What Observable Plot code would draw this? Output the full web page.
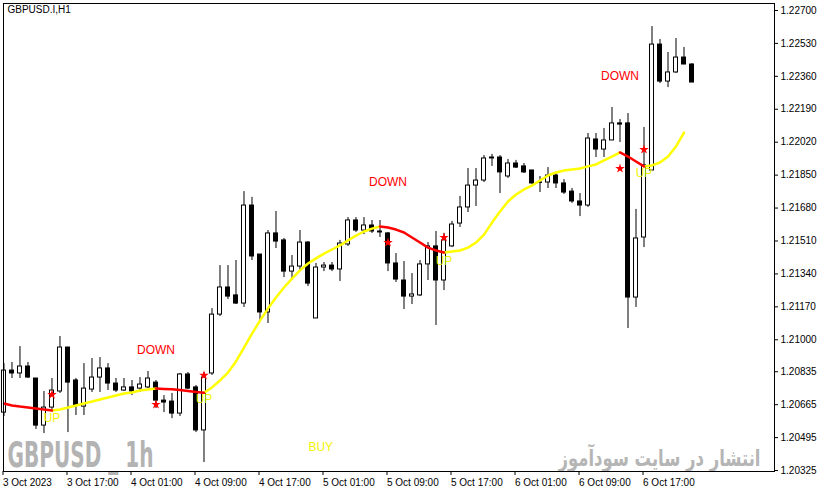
<!DOCTYPE html>
<html>
<head>
<meta charset="utf-8">
<script src="https://cdn.jsdelivr.net/npm/d3@7"></script>
<script src="https://cdn.jsdelivr.net/npm/@observablehq/plot@0.6"></script>
<style>
  body { margin: 0; background: #fff; }
  #chart svg { display: block; }
</style>
</head>
<body>
<div id="chart"></div>
<script>
// GBPUSD.I H1 candles, one bar per hour starting 3 Oct 2023 09:00
const opens = [
  1.20624,1.20841,1.20826,1.20862,1.20800,1.20557,1.20650,1.20733,1.20960,1.20790,
  1.20655,1.20743,1.20805,1.20852,1.20774,1.20738,1.20754,1.20748,1.20754,1.20779,
  1.20686,1.20681,1.20619,1.20821,1.20754,1.20532,1.20826,1.21130,1.21270,1.21229,
  1.21187,1.21693,1.21440,1.21141,1.21549,1.21513,1.21352,1.21378,1.21502,1.21110,
  1.21373,1.21383,1.21363,1.21492,1.21616,1.21564,1.21590,1.21559,1.21549,1.21394,
  1.21306,1.21223,1.21229,1.21389,1.21482,1.21306,1.21482,1.21600,1.21683,1.21796,
  1.21822,1.21941,1.21941,1.21843,1.21910,1.21895,1.21874,1.21812,1.21812,1.21848,
  1.21807,1.21765,1.21714,1.21693,1.22034,1.21982,1.22029,1.22117,1.22117,1.21218,
  1.21528,1.21874,1.22524,1.22333,1.22380,1.22457,1.22421
];
const highs = [
  1.20877,1.20883,1.20965,1.20883,1.20800,1.20733,1.20800,1.21017,1.20960,1.20800,
  1.20877,1.20903,1.20908,1.20877,1.20800,1.20800,1.20790,1.20805,1.20836,1.20790,
  1.20712,1.20723,1.20826,1.20831,1.20764,1.20831,1.21161,1.21383,1.21383,1.21409,
  1.21765,1.21735,1.21440,1.21564,1.21662,1.21523,1.21435,1.21564,1.21507,1.21394,
  1.21399,1.21399,1.21513,1.21631,1.21631,1.21631,1.21616,1.21616,1.21554,1.21445,
  1.21404,1.21342,1.21409,1.21502,1.21559,1.21549,1.21611,1.21740,1.21884,1.21884,
  1.21951,1.21957,1.21951,1.21931,1.21926,1.21910,1.21874,1.21843,1.21889,1.21864,
  1.21827,1.21781,1.21755,1.22065,1.22065,1.22091,1.22199,1.22137,1.22168,1.21673,
  1.22096,1.22617,1.22550,1.22483,1.22555,1.22509,1.22426
];
const lows = [
  1.20604,1.20800,1.20800,1.20800,1.20537,1.20516,1.20635,1.20723,1.20521,1.20609,
  1.20609,1.20728,1.20728,1.20738,1.20728,1.20733,1.20712,1.20728,1.20748,1.20645,
  1.20624,1.20593,1.20604,1.20743,1.20521,1.20366,1.20816,1.21120,1.21208,1.21182,
  1.21167,1.21409,1.21089,1.21084,1.21471,1.21321,1.21306,1.21358,1.21275,1.21110,
  1.21352,1.21352,1.21301,1.21482,1.21554,1.21543,1.21549,1.21528,1.21352,1.21296,
  1.21156,1.21182,1.21223,1.21306,1.21074,1.21254,1.21476,1.21580,1.21657,1.21688,
  1.21812,1.21895,1.21755,1.21833,1.21884,1.21858,1.21802,1.21760,1.21781,1.21781,
  1.21750,1.21704,1.21636,1.21683,1.21941,1.21941,1.22029,1.22018,1.21058,1.21167,
  1.21476,1.21874,1.22323,1.22302,1.22375,1.22421,1.22328
];
const closes = [
  1.20841,1.20826,1.20862,1.20805,1.20557,1.20650,1.20738,1.20960,1.20779,1.20661,
  1.20748,1.20805,1.20852,1.20774,1.20738,1.20754,1.20733,1.20769,1.20800,1.20686,
  1.20676,1.20619,1.20821,1.20748,1.20532,1.20805,1.21130,1.21270,1.21223,1.21187,
  1.21693,1.21430,1.21141,1.21549,1.21507,1.21352,1.21378,1.21502,1.21290,1.21373,
  1.21383,1.21363,1.21497,1.21616,1.21564,1.21590,1.21559,1.21554,1.21394,1.21311,
  1.21223,1.21234,1.21389,1.21482,1.21306,1.21513,1.21595,1.21683,1.21796,1.21822,
  1.21936,1.21936,1.21864,1.21910,1.21889,1.21864,1.21807,1.21810,1.21848,1.21807,
  1.21760,1.21714,1.21693,1.22039,1.21982,1.22029,1.22117,1.22111,1.21218,1.21523,
  1.21900,1.22524,1.22333,1.22380,1.22457,1.22421,1.22328
];

// trend indicator line (red while falling, yellow while rising)
const trendLine = [
  1.20671,1.20661,1.20655,1.20650,1.20645,1.20640,1.20635,1.20640,1.20650,1.20661,
  1.20671,1.20681,1.20692,1.20702,1.20712,1.20723,1.20728,1.20738,1.20743,1.20748,
  1.20746,1.20744,1.20741,1.20736,1.20731,1.20726,1.20754,1.20790,1.20831,1.20888,
  1.20960,1.21032,1.21099,1.21161,1.21218,1.21270,1.21316,1.21358,1.21394,1.21420,
  1.21445,1.21466,1.21487,1.21513,1.21538,1.21559,1.21574,1.21585,1.21580,1.21569,
  1.21554,1.21528,1.21502,1.21476,1.21461,1.21451,1.21456,1.21461,1.21476,1.21502,
  1.21543,1.21605,1.21662,1.21714,1.21750,1.21776,1.21796,1.21822,1.21848,1.21864,
  1.21874,1.21879,1.21884,1.21895,1.21905,1.21926,1.21946,1.21967,1.21946,1.21920,
  1.21895,1.21900,1.21915,1.21946,1.21998,1.22070
];

// signal stars and labels
const starBars = [6, 19, 25, 48, 55, 77, 80];
const starPrices = [1.20717, 1.20666, 1.20816, 1.21502, 1.21528, 1.21884, 1.21982];
const labelBars = [6, 19, 25, 48, 55, 77, 80, 39.6];
const labelPrices = [1.20593, 1.20945, 1.20692, 1.21812, 1.21404, 1.22359, 1.21858, 1.20444];
const labelTexts = ["UP", "DOWN", "UP", "DOWN", "UP", "DOWN", "UP", "BUY"];

const timeTicks = [0, 8, 16, 24, 32, 40, 48, 56, 64, 72, 80];
const timeLabels = ["3 Oct 2023", "3 Oct 17:00", "4 Oct 01:00", "4 Oct 09:00", "4 Oct 17:00",
  "5 Oct 01:00", "5 Oct 09:00", "5 Oct 17:00", "6 Oct 01:00", "6 Oct 09:00", "6 Oct 17:00"];
const priceTicks = [1.22700, 1.22530, 1.22360, 1.22190, 1.22020, 1.21850, 1.21680, 1.21510,
  1.21340, 1.21170, 1.21000, 1.20835, 1.20665, 1.20495, 1.20325];

const symbolMark = "GBPUSD _ 1h";
const siteMark = "انتشار در سایت سودآموز";

const candles = opens.map((o, i) => ({i, open: o, high: highs[i], low: lows[i], close: closes[i]}));
const bull = candles.filter(d => d.close >= d.open);
const bear = candles.filter(d => d.close < d.open);

// split the indicator into runs of same direction
const trendPts = [];
let seg = 0, prevDown = null;
for (let i = 0; i < trendLine.length - 1; i++) {
  const down = trendLine[i + 1] < trendLine[i];
  if (down !== prevDown) {
    seg++;
    trendPts.push({i, v: trendLine[i], seg, down});
  }
  trendPts.push({i: i + 1, v: trendLine[i + 1], seg, down});
  prevDown = down;
}

const stars = starBars.map((b, k) => ({i: b, p: starPrices[k]}));
const labels = labelBars.map((b, k) => ({i: b, p: labelPrices[k], t: labelTexts[k]}));

const font = "'Liberation Sans', Arial, sans-serif";

const chart = Plot.plot({
  width: 821,
  height: 495,
  marginLeft: 3,
  marginRight: 47,
  marginTop: 3,
  marginBottom: 24,
  style: {fontFamily: font, fontSize: "10px", background: "white", color: "black"},
  x: {type: "linear", domain: [-0.06, 96.31], label: null},
  y: {domain: [1.20320, 1.22736], label: null},
  marks: [
    Plot.text([symbolMark], {frameAnchor: "bottom-left", lineAnchor: "bottom", dx: 4, dy: -5,
      text: d => d, fill: "#b3b3b3", fontSize: 35, fontWeight: "bold",
      fontFamily: "'Liberation Sans Narrow', 'DejaVu Sans Condensed', sans-serif"}),
    Plot.text([siteMark], {frameAnchor: "bottom-right", lineAnchor: "bottom", dx: -14, dy: -6,
      text: d => d, fill: "#b5b5b5", fontSize: 23, fontWeight: "bold", textAnchor: "end",
      fontFamily: "'DejaVu Sans', sans-serif"}),
    Plot.text(["GBPUSD.I,H1"], {frameAnchor: "top-left", lineAnchor: "top", dx: 4, dy: 2,
      text: d => d, fill: "black", fontSize: 10}),
    Plot.ruleX(candles, {x: "i", y1: "low", y2: "high", stroke: "black", strokeWidth: 1}),
    Plot.rect(bull, {x1: d => d.i - 0.25, x2: d => d.i + 0.25, y1: "open", y2: "close", fill: "white", stroke: "black"}),
    Plot.rect(bear, {x1: d => d.i - 0.25, x2: d => d.i + 0.25, y1: "open", y2: "close", fill: "black", stroke: "black"}),
    Plot.line(trendPts.filter(d => !d.down), {x: "i", y: "v", z: "seg", stroke: "#ffff00", strokeWidth: 2.5}),
    Plot.line(trendPts.filter(d => d.down), {x: "i", y: "v", z: "seg", stroke: "#ff0000", strokeWidth: 2.5}),
    Plot.dot(stars, {x: "i", y: "p", symbol: "star", r: 3, fill: "#ff0000", stroke: "none"}),
    Plot.text(labels, {x: "i", y: "p", text: "t", fontSize: 12,
      fill: d => d.t === "DOWN" ? "#ff0000" : "#f2f200"}),
    Plot.frame({stroke: "black"}),
    Plot.axisY({ticks: priceTicks, anchor: "right", tickSize: 3, tickPadding: 3,
      tickFormat: d => d.toFixed(5), label: null}),
    Plot.axisX({ticks: timeTicks, anchor: "bottom", tickSize: 4, tickPadding: 3, textAnchor: "start", dx: -1,
      tickFormat: d => timeLabels[timeTicks.indexOf(d)], label: null})
  ]
});

// squeeze the watermarks to the width they take in the terminal
d3.select(chart).selectAll("text")
  .filter(function() { return this.textContent === symbolMark; })
  .attr("textLength", 146)
  .attr("lengthAdjust", "spacingAndGlyphs");
d3.select(chart).selectAll("text")
  .filter(function() { return this.textContent === siteMark; })
  .attr("textLength", 202)
  .attr("lengthAdjust", "spacingAndGlyphs");

d3.select('#chart').append(() => chart);
</script>
</body>
</html>
